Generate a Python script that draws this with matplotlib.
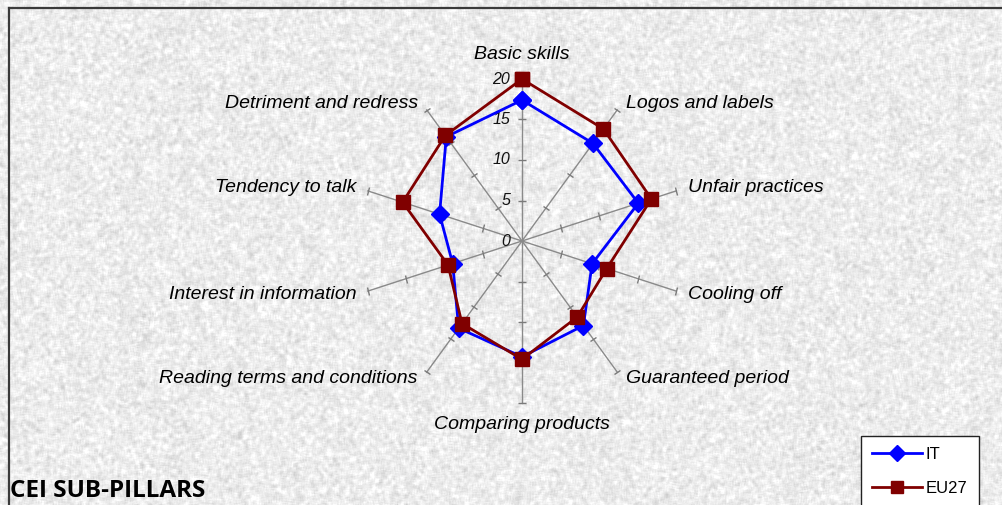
import numpy as np
import matplotlib
matplotlib.use("Agg")
import matplotlib.pyplot as plt
from matplotlib.markers import MarkerStyle
from matplotlib.transforms import Affine2D
from matplotlib.lines import Line2D

categories = ["Basic skills", "Logos and labels", "Unfair practices", "Cooling off",
              "Guaranteed period", "Comparing products", "Reading terms and conditions",
              "Interest in information", "Tendency to talk", "Detriment and redress"]
it_values = [17.4, 14.9, 15.1, 9.1, 12.9, 14.3, 13.3, 9.0, 10.7, 15.9]
eu27_values = [20.0, 17.1, 16.8, 11.0, 11.6, 14.6, 12.6, 9.6, 15.5, 16.1]
r_ticks = [0, 5, 10, 15, 20]
title = "CEI SUB-PILLARS"

W, H = 1003, 505
fig = plt.figure(figsize=(W / 100, H / 100), dpi=100)

# textured light-grey background (decoration only)
rng = np.random.default_rng(7)
k = 4
noise = rng.normal(size=(H + k, W + k))
blur = np.zeros((H, W))
for dy in range(k):
    for dx in range(k):
        blur += noise[dy:dy + H, dx:dx + W]
blur /= blur.std()
tex = np.clip(0.925 + 0.032 * blur, 0.78, 1.0)
bg = fig.add_axes([0, 0, 1, 1])
bg.imshow(tex, cmap="gray", vmin=0, vmax=1, aspect="auto", interpolation="bilinear")
bg.set_axis_off()

# frame lines (top and left)
fig.add_artist(Line2D([9 / W, 1], [1 - 8 / H, 1 - 8 / H], color="#3a3a3a", lw=1.6))
fig.add_artist(Line2D([9 / W, 9 / W], [0, 1 - 8 / H], color="#3a3a3a", lw=1.6))

cx, cy, R = 522, 241, 162
ax = fig.add_axes([(cx - R) / W, (H - cy - R) / H, 2 * R / W, 2 * R / H],
                  projection="polar")
ax.set_theta_zero_location("N")
ax.set_theta_direction(-1)
ax.set_ylim(0, 20)
ax.patch.set_visible(False)
ax.set_axis_off()

n = len(categories)
thetas = np.arange(n) * 2 * np.pi / n
deg = np.degrees(thetas)

# spokes with tick marks
for t, d in zip(thetas, deg):
    ax.plot([t, t], [0, r_ticks[-1]], color="#8a8a8a", lw=1.0, zorder=1, clip_on=False)
    mk = MarkerStyle("_", transform=Affine2D().rotate_deg(-d))
    ax.plot([t] * (len(r_ticks) - 1), r_ticks[1:], linestyle="none", marker=mk,
            markersize=6, markeredgecolor="#7a7a7a", markeredgewidth=1.0,
            zorder=1, clip_on=False)

# radial tick labels
for r in r_ticks:
    ax.annotate(str(r), xy=(0, r), xytext=(-8.5, 0), textcoords="offset points",
                ha="right", va="center", fontsize=11.5, style="italic",
                family="Liberation Sans", color="#111111")

# category labels
for t, d, lab in zip(thetas, deg, categories):
    dx = 0
    if d < 1:
        ha, va, rr = "center", "bottom", 22.0
    elif abs(d - 180) < 1:
        ha, va, rr = "center", "top", 21.6
    elif d < 180:
        ha, va = "left", "center"
        rr = 21.5 if abs(d - 90) < 40 else 21.0
        dx = 0 if abs(d - 90) < 40 else 3
    else:
        ha, va = "right", "center"
        rr = 21.5 if abs(d - 270) < 40 else 21.0
        dx = 0 if abs(d - 270) < 40 else -3
    ax.annotate(lab, xy=(t, rr), xytext=(dx, 0), textcoords="offset points",
                ha=ha, va=va, fontsize=14, style="italic",
                family="Liberation Sans", color="black", annotation_clip=False)

tc = np.concatenate([thetas, thetas[:1]])
it_c = it_values + it_values[:1]
eu_c = eu27_values + eu27_values[:1]
ax.plot(tc, it_c, color="#0000FF", lw=2.0, marker="D", markersize=9,
        markerfacecolor="#0000FF", markeredgecolor="#0000FF", zorder=3,
        clip_on=False, label="IT")
ax.plot(tc, eu_c, color="#800000", lw=2.0, marker="s", markersize=10.5,
        markerfacecolor="#800000", markeredgecolor="#800000", zorder=4,
        clip_on=False, label="EU27")

handles = [Line2D([], [], color="#0000FF", lw=2.0, marker="D", markersize=8),
           Line2D([], [], color="#800000", lw=2.0, marker="s", markersize=9)]
leg = fig.legend(handles, ["IT", "EU27"], loc="upper left",
                 bbox_to_anchor=(861 / W, 1 - 436 / H), bbox_transform=fig.transFigure,
                 frameon=True, fancybox=False, edgecolor="#222222", facecolor="white",
                 framealpha=1.0, borderaxespad=0, borderpad=0.65, labelspacing=1.15,
                 handlelength=3.0, handletextpad=0.25,
                 prop={"family": "Liberation Sans", "size": 12})
leg.get_frame().set_linewidth(1.0)

fig.text(10 / W, 1 - 491 / H, title, ha="left", va="center", fontsize=17.5,
         fontweight="bold", family="Open Sans", color="black")

fig.savefig("out.png", dpi=100)
